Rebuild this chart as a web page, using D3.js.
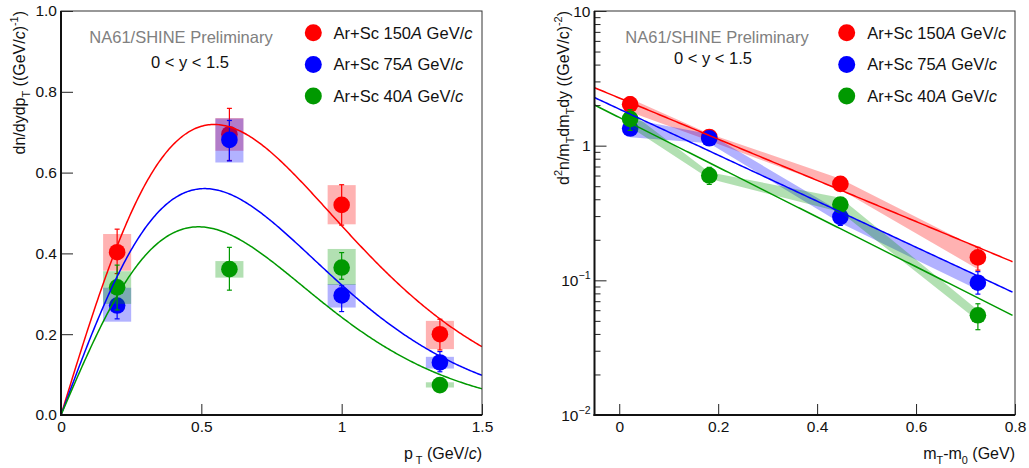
<!DOCTYPE html>
<html><head><meta charset="utf-8">
<script src="https://cdn.jsdelivr.net/npm/d3@7"></script>
<style>
html,body{margin:0;padding:0;background:#fff;}
svg{display:block;font-family:"Liberation Sans",Arial,Helvetica,sans-serif;}
</style></head>
<body>
<svg id="chart" width="1029" height="468"></svg>
<script>
// ---------------- data ----------------
const energies = ["150", "75", "40"];
const seriesColors = ["#ff0000", "#0000ff", "#009900"];
const seriesFills = ["rgba(255,0,0,0.3)", "rgba(0,0,255,0.3)", "rgba(0,153,0,0.3)"];

// left panel: dn/dydpT vs pT
const pT = [0.2, 0.6, 1.0, 1.35];
const pTBinHalf = 0.05;
const ptY150 = [0.403, 0.695, 0.52, 0.2];
const ptStatLo150 = [0.35, 0.63, 0.47, 0.161];
const ptStatHi150 = [0.46, 0.759, 0.57, 0.237];
const ptSysLo150 = [0.357, 0.654, 0.472, 0.163];
const ptSysHi150 = [0.448, 0.735, 0.569, 0.233];
const ptY75 = [0.271, 0.681, 0.296, 0.13];
const ptStatLo75 = [0.238, 0.629, 0.256, 0.107];
const ptStatHi75 = [0.317, 0.729, 0.32, 0.157];
const ptSysLo75 = [0.231, 0.625, 0.266, 0.115];
const ptSysHi75 = [0.315, 0.734, 0.324, 0.144];
const ptY40 = [0.316, 0.361, 0.365, 0.074];
const ptStatLo40 = [0.26, 0.309, 0.336, 0.058];
const ptStatHi40 = [0.371, 0.415, 0.402, 0.09];
const ptSysLo40 = [0.275, 0.34, 0.322, 0.068];
const ptSysHi40 = [0.356, 0.381, 0.411, 0.081];

// right panel: d2n/mTdmTdy vs mT-m0
const mT = [0.022, 0.182, 0.447, 0.725];
const mtY150 = [2.03, 1.16, 0.52, 0.148];
const mtStatLo150 = [1.75, 1.05, 0.47, 0.119];
const mtStatHi150 = [2.3, 1.265, 0.57, 0.176];
const mtSysLo150 = [1.78, 1.09, 0.472, 0.121];
const mtSysHi150 = [2.24, 1.225, 0.569, 0.173];
const mtY75 = [1.34, 1.135, 0.296, 0.096];
const mtStatLo75 = [1.19, 1.048, 0.256, 0.079];
const mtStatHi75 = [1.585, 1.215, 0.32, 0.116];
const mtSysLo75 = [1.155, 1.042, 0.266, 0.085];
const mtSysHi75 = [1.575, 1.223, 0.324, 0.107];
const mtY40 = [1.58, 0.60, 0.365, 0.055];
const mtStatLo40 = [1.3, 0.515, 0.336, 0.043];
const mtStatHi40 = [1.855, 0.69, 0.402, 0.067];
const mtSysLo40 = [1.375, 0.567, 0.322, 0.050];
const mtSysHi40 = [1.78, 0.635, 0.411, 0.060];

// exponential fit parameters: dn/(mT dmT dy) = A exp(-(mT-m0)/T)
const fitA = [2.26, 1.87, 1.62];
const fitT = [0.284, 0.254, 0.235];
const particleMass = 0.8955;

// tick labels
const ptTicks = [0, 0.5, 1, 1.5];
const ptTickLabels = ["0", "0.5", "1", "1.5"];
const yLinTicks = [0, 0.2, 0.4, 0.6, 0.8, 1.0];
const yLinTickLabels = ["0.0", "0.2", "0.4", "0.6", "0.8", "1.0"];
const mtTicks = [0, 0.2, 0.4, 0.6, 0.8];
const mtTickLabels = ["0", "0.2", "0.4", "0.6", "0.8"];
const yLogTicks = [0.01, 0.1, 1, 10];
const yLogTickLabels = [["10", "\u22122"], ["10", "\u22121"], ["1", null], ["10", null]];

// ---------------- build ----------------
const left = {
  y: [ptY150, ptY75, ptY40],
  statLo: [ptStatLo150, ptStatLo75, ptStatLo40],
  statHi: [ptStatHi150, ptStatHi75, ptStatHi40],
  sysLo: [ptSysLo150, ptSysLo75, ptSysLo40],
  sysHi: [ptSysHi150, ptSysHi75, ptSysHi40]
};
const right = {
  y: [mtY150, mtY75, mtY40],
  statLo: [mtStatLo150, mtStatLo75, mtStatLo40],
  statHi: [mtStatHi150, mtStatHi75, mtStatHi40],
  sysLo: [mtSysLo150, mtSysLo75, mtSysLo40],
  sysHi: [mtSysHi150, mtSysHi75, mtSysHi40]
};

const svg = d3.select("#chart");
const FONT_TICK = 15.5, FONT_TXT = 16.5, FONT_TITLE = 16;

function rich(textSel, segs, fs) {
  let shift = 0;
  segs.forEach(s => {
    const target = s.sub ? 0.32 * fs : (s.sup ? -0.42 * fs : 0);
    const ts = textSel.append("tspan").text(s.t);
    ts.attr("dy", target - shift);
    shift = target;
    if (s.sub || s.sup) ts.attr("font-size", 0.68 * fs);
    if (s.i) ts.attr("font-style", "italic");
  });
  return textSel;
}

// panel geometry
const L = {x0: 61, x1: 482, y0: 11, y1: 415};
const R = {x0: 594.5, x1: 1015, y0: 11, y1: 415};

const xL = d3.scaleLinear().domain([0, 1.5]).range([L.x0, L.x1]);
const yL = d3.scaleLinear().domain([0, 1]).range([L.y1, L.y0]);
const xR = d3.scaleLinear().domain([-0.05, 0.8]).range([R.x0, R.x1]);
const yR = d3.scaleLog().domain([0.01, 10]).range([R.y1, R.y0]);

// clip paths
const defs = svg.append("defs");
defs.append("clipPath").attr("id", "clipL").append("rect")
  .attr("x", L.x0).attr("y", L.y0).attr("width", L.x1 - L.x0).attr("height", L.y1 - L.y0);
defs.append("clipPath").attr("id", "clipR").append("rect")
  .attr("x", R.x0).attr("y", R.y0).attr("width", R.x1 - R.x0).attr("height", R.y1 - R.y0);

// ---------- LEFT PANEL ----------
const gL = svg.append("g").attr("clip-path", "url(#clipL)");
[0, 1, 2].forEach(s => {
  const g = gL.append("g");
  g.selectAll("rect.sys").data(pT).join("rect")
    .attr("x", d => xL(d - pTBinHalf)).attr("width", d => xL(d + pTBinHalf) - xL(d - pTBinHalf))
    .attr("y", (d, i) => yL(left.sysHi[s][i]))
    .attr("height", (d, i) => yL(left.sysLo[s][i]) - yL(left.sysHi[s][i]))
    .attr("fill", seriesFills[s]);
  pT.forEach((d, i) => {
    const x = xL(d), y1 = yL(left.statLo[s][i]), y2 = yL(left.statHi[s][i]);
    g.append("line").attr("x1", x).attr("x2", x).attr("y1", y1).attr("y2", y2)
      .attr("stroke", seriesColors[s]).attr("stroke-width", 1.2);
    [y1, y2].forEach(yy => g.append("line").attr("x1", x - 2.5).attr("x2", x + 2.5)
      .attr("y1", yy).attr("y2", yy).attr("stroke", seriesColors[s]).attr("stroke-width", 1.2));
  });
  g.selectAll("circle").data(pT).join("circle")
    .attr("cx", d => xL(d)).attr("cy", (d, i) => yL(left.y[s][i])).attr("r", 8.3)
    .attr("fill", seriesColors[s]);
});
[0, 1, 2].forEach(s => {
  const pts = d3.range(0, 1.5001, 0.005).map(p => {
    const m = Math.sqrt(p * p + particleMass * particleMass);
    return [p, fitA[s] * p * Math.exp(-(m - particleMass) / fitT[s])];
  });
  gL.append("path").datum(pts)
    .attr("d", d3.line().x(d => xL(d[0])).y(d => yL(d[1])))
    .attr("fill", "none").attr("stroke", seriesColors[s]).attr("stroke-width", 1.5);
});

// ---------- RIGHT PANEL ----------
const gR = svg.append("g").attr("clip-path", "url(#clipR)");
[0, 1, 2].forEach(s => {
  const g = gR.append("g");
  g.append("path").datum(mT)
    .attr("d", d3.area().x(d => xR(d))
      .y0((d, i) => yR(right.sysLo[s][i])).y1((d, i) => yR(right.sysHi[s][i])))
    .attr("fill", seriesFills[s]);
  mT.forEach((d, i) => {
    const x = xR(d), y1 = yR(right.statLo[s][i]), y2 = yR(right.statHi[s][i]);
    g.append("line").attr("x1", x).attr("x2", x).attr("y1", y1).attr("y2", y2)
      .attr("stroke", seriesColors[s]).attr("stroke-width", 1.2);
    [y1, y2].forEach(yy => g.append("line").attr("x1", x - 2.5).attr("x2", x + 2.5)
      .attr("y1", yy).attr("y2", yy).attr("stroke", seriesColors[s]).attr("stroke-width", 1.2));
  });
  g.selectAll("circle").data(mT).join("circle")
    .attr("cx", d => xR(d)).attr("cy", (d, i) => yR(right.y[s][i])).attr("r", 8.3)
    .attr("fill", seriesColors[s]);
});
[0, 1, 2].forEach(s => {
  const pts = d3.range(-0.05, 0.7951, 0.005).map(x => [x, fitA[s] * Math.exp(-x / fitT[s])]);
  gR.append("path").datum(pts)
    .attr("d", d3.line().x(d => xR(d[0])).y(d => yR(d[1])))
    .attr("fill", "none").attr("stroke", seriesColors[s]).attr("stroke-width", 1.5);
});

// ---------- AXES ----------
function styleAxis(g) {
  g.select(".domain").remove();
  g.selectAll(".tick line").attr("stroke", "#222").attr("stroke-width", 1);
  g.selectAll(".tick text").attr("fill", "#111").attr("font-size", FONT_TICK)
    .attr("font-family", "Liberation Sans, Arial, sans-serif");
}
// left
svg.append("g").attr("transform", `translate(0,${L.y1})`)
  .call(d3.axisBottom(xL).tickValues(ptTicks).tickFormat((d, i) => ptTickLabels[i])
    .tickSize(-11).tickSizeOuter(0).tickPadding(6)).call(styleAxis);
svg.append("g").attr("transform", `translate(${L.x0},0)`)
  .call(d3.axisLeft(yL).tickValues(yLinTicks).tickFormat((d, i) => yLinTickLabels[i])
    .tickSize(-12).tickSizeOuter(0).tickPadding(4)).call(styleAxis);
// right
svg.append("g").attr("transform", `translate(0,${R.y1})`)
  .call(d3.axisBottom(xR).tickValues(mtTicks).tickFormat((d, i) => mtTickLabels[i])
    .tickSize(-11).tickSizeOuter(0).tickPadding(6)).call(styleAxis);
const minorLog = [];
[0.01, 0.1, 1].forEach(dec => d3.range(2, 10).forEach(k => minorLog.push(dec * k)));
svg.append("g").attr("transform", `translate(${R.x0},0)`)
  .call(d3.axisLeft(yR).tickValues(minorLog).tickFormat("").tickSize(-6).tickSizeOuter(0))
  .call(styleAxis);
svg.append("g").attr("transform", `translate(${R.x0},0)`)
  .call(d3.axisLeft(yR).tickValues(yLogTicks).tickFormat("")
    .tickSize(-12).tickSizeOuter(0)).call(styleAxis);
yLogTicks.forEach((v, i) => {
  const [base, exp] = yLogTickLabels[i];
  const t = svg.append("text").attr("x", R.x0 - 4).attr("y", yR(v) + 5.5)
    .attr("text-anchor", "end").attr("font-size", FONT_TICK).attr("fill", "#111");
  const segs = [{t: base}];
  if (exp) segs.push({t: exp, sup: true});
  rich(t, segs, FONT_TICK);
});

// frames
[L, R].forEach(P => {
  svg.append("rect").attr("x", P.x0).attr("y", P.y0).attr("width", P.x1 - P.x0)
    .attr("height", P.y1 - P.y0).attr("fill", "none").attr("stroke", "#333").attr("stroke-width", 1);
  svg.append("line").attr("x1", P.x0).attr("x2", P.x0).attr("y1", P.y0).attr("y2", P.y1 + 1)
    .attr("stroke", "#111").attr("stroke-width", 2);
  svg.append("line").attr("x1", P.x0 - 1).attr("x2", P.x1).attr("y1", P.y1).attr("y2", P.y1)
    .attr("stroke", "#111").attr("stroke-width", 2);
});

// axis titles
rich(svg.append("text").attr("x", L.x1).attr("y", 459).attr("text-anchor", "end")
  .attr("font-size", FONT_TITLE).attr("fill", "#111"),
  [{t: "p"}, {t: " T", sub: true}, {t: " (GeV/"}, {t: "c", i: true}, {t: ")"}], FONT_TITLE);
rich(svg.append("text").attr("x", R.x1).attr("y", 459).attr("text-anchor", "end")
  .attr("font-size", FONT_TITLE).attr("fill", "#111"),
  [{t: "m"}, {t: "T", sub: true}, {t: "-m"}, {t: "0", sub: true}, {t: " (GeV)"}], FONT_TITLE);
rich(svg.append("text").attr("transform", `translate(24.5,${L.y0}) rotate(-90)`)
  .attr("text-anchor", "end").attr("font-size", FONT_TITLE).attr("fill", "#111"),
  [{t: "dn/dydp"}, {t: "T", sub: true}, {t: "  ((GeV/"}, {t: "c", i: true}, {t: ")"},
   {t: "-1", sup: true}, {t: ")"}], FONT_TITLE);
rich(svg.append("text").attr("transform", `translate(569,${R.y0}) rotate(-90)`)
  .attr("text-anchor", "end").attr("font-size", FONT_TITLE).attr("fill", "#111"),
  [{t: "d"}, {t: "2", sup: true}, {t: "n/m"}, {t: "T", sub: true}, {t: "dm"}, {t: "T", sub: true},
   {t: "dy ((GeV/c)"}, {t: "-2", sup: true}, {t: ")"}], FONT_TITLE);

// annotations
const annot = [
  {x: 181, y: 43, t: "NA61/SHINE Preliminary", c: "#808080"},
  {x: 190, y: 68, t: "0 < y < 1.5", c: "#111"},
  {x: 717, y: 43, t: "NA61/SHINE Preliminary", c: "#808080"},
  {x: 713, y: 64, t: "0 < y < 1.5", c: "#111"}
];
annot.forEach(a => svg.append("text").attr("x", a.x).attr("y", a.y).attr("text-anchor", "middle")
  .attr("font-size", FONT_TXT).attr("fill", a.c).text(a.t));

// legends
[{cx: 313.3, tx: 333.5}, {cx: 846.7, tx: 867.3}].forEach(lg => {
  energies.forEach((e, s) => {
    const cy = 32.7 + s * 31.7;
    svg.append("circle").attr("cx", lg.cx).attr("cy", cy).attr("r", 8.5).attr("fill", seriesColors[s]);
    rich(svg.append("text").attr("x", lg.tx).attr("y", cy + 6).attr("font-size", FONT_TXT).attr("fill", "#111"),
      [{t: "Ar+Sc " + e}, {t: "A", i: true}, {t: " GeV/"}, {t: "c", i: true}], FONT_TXT);
  });
});
</script>
</body></html>
